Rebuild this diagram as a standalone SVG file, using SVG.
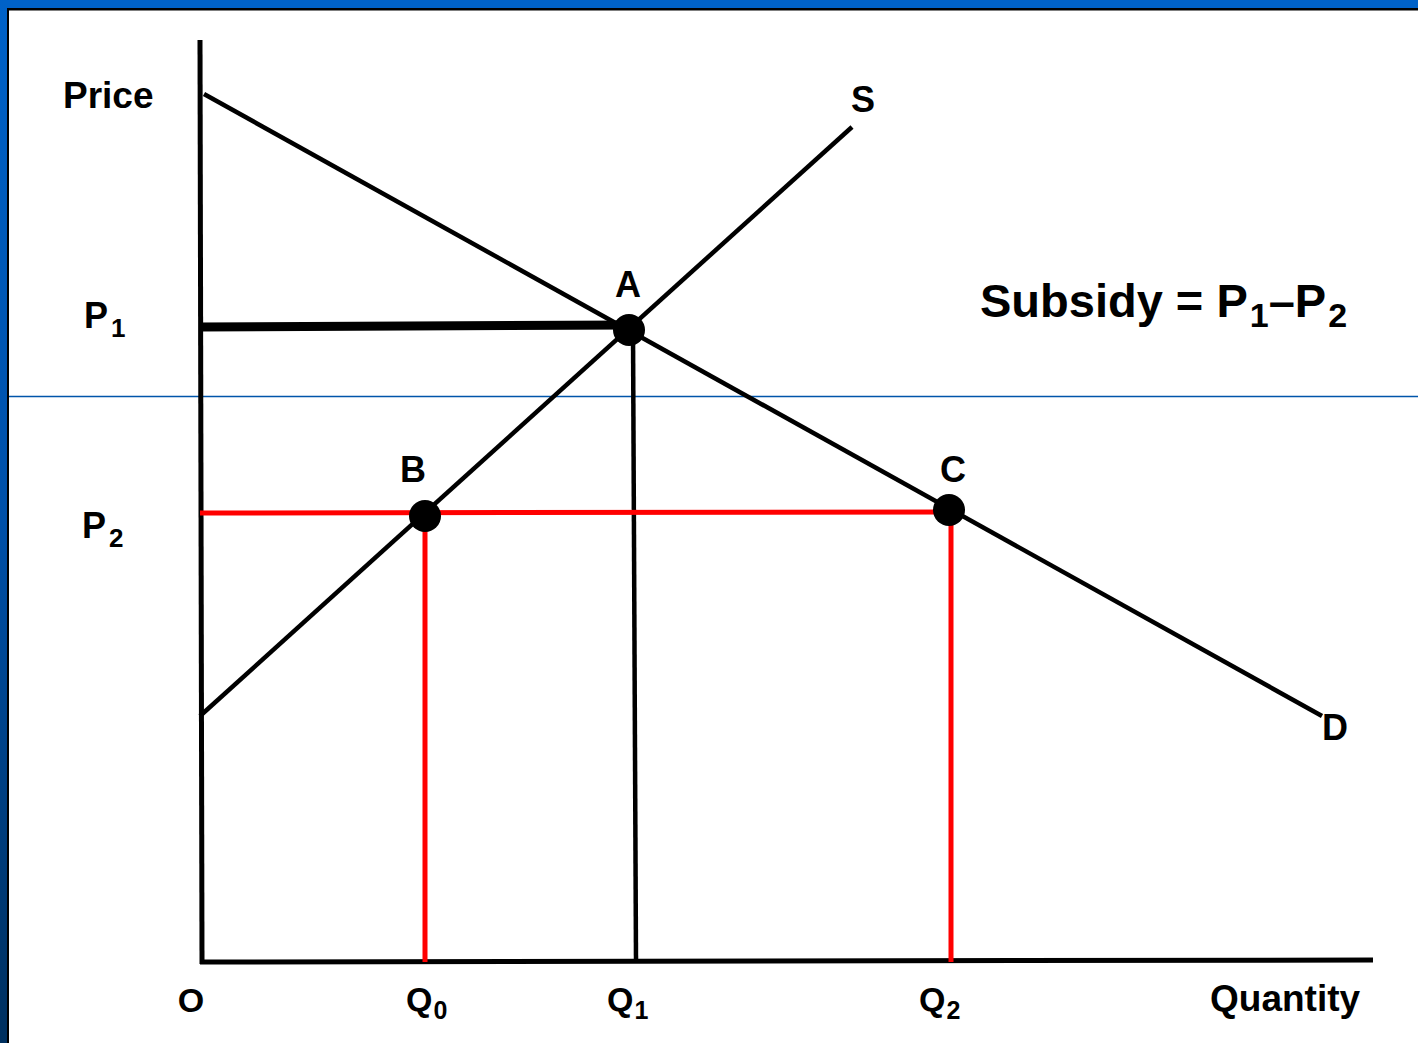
<svg xmlns="http://www.w3.org/2000/svg" width="1418" height="1043" viewBox="0 0 1418 1043">
<defs>
<linearGradient id="side" x1="0" y1="0" x2="0" y2="1">
<stop offset="0" stop-color="#0062C8"/>
<stop offset="0.5" stop-color="#0050A8"/>
<stop offset="1" stop-color="#00305F"/>
</linearGradient>
</defs>
<style>
.t{font-family:"Liberation Sans",Arial,sans-serif;font-weight:bold;fill:#000}
.ax{stroke:#000;stroke-width:5;fill:none}
.ln{stroke:#000;stroke-width:4.5;fill:none}
.red{stroke:#FF0000;stroke-width:5;fill:none}
.dot{fill:#000}
</style>
<rect x="0" y="0" width="1418" height="1043" fill="#FFFFFF"/>
<rect x="0" y="0" width="1418" height="8" fill="#0062C8"/>
<rect x="0" y="0" width="7" height="1043" fill="url(#side)"/>
<rect x="7" y="8" width="1411" height="2.5" fill="#000"/>
<rect x="7" y="8" width="2" height="1035" fill="#000"/>
<line x1="9" y1="396.5" x2="1418" y2="396.5" stroke="#0055AA" stroke-width="1.5"/>
<g id="connectors">
<line id="y-axis" class="ax" x1="200" y1="40" x2="202" y2="964"/>
<line id="x-axis" class="ax" x1="200" y1="962" x2="1373" y2="960"/>
<line id="demand" class="ln" x1="204" y1="94" x2="1322" y2="716"/>
<line id="supply" class="ln" x1="200" y1="716" x2="852" y2="127"/>
<line id="p1-line" x1="200" y1="327" x2="629" y2="325" stroke="#000" stroke-width="9"/>
<line id="q1-line" class="ln" x1="633" y1="330" x2="636" y2="962"/>
<line id="p2-line" class="red" x1="200" y1="513" x2="950" y2="512"/>
<line id="q0-line" class="red" x1="425" y1="515" x2="425" y2="962"/>
<line id="q2-line" class="red" x1="951" y1="511" x2="951" y2="962"/>
</g>
<g id="node-A"><circle class="dot" cx="629" cy="330" r="16"/><text class="t" x="628" y="297" font-size="36" text-anchor="middle">A</text></g>
<g id="node-B"><circle class="dot" cx="425" cy="516" r="16"/><text class="t" x="413" y="482" font-size="36" text-anchor="middle">B</text></g>
<g id="node-C"><circle class="dot" cx="949" cy="510" r="16"/><text class="t" x="953" y="482" font-size="36" text-anchor="middle">C</text></g>
<g id="label-price"><text class="t" x="63" y="108" font-size="37">Price</text></g>
<g id="label-p1"><text class="t" x="84" y="328" font-size="36">P<tspan font-size="26" dx="3" dy="9">1</tspan></text></g>
<g id="label-p2"><text class="t" x="82" y="538" font-size="36">P<tspan font-size="26" dx="3" dy="9">2</tspan></text></g>
<g id="label-S"><text class="t" x="863" y="112" font-size="36" text-anchor="middle">S</text></g>
<g id="label-D"><text class="t" x="1335" y="740" font-size="36" text-anchor="middle">D</text></g>
<g id="label-O"><text class="t" x="191" y="1012" font-size="34" text-anchor="middle">O</text></g>
<g id="label-q0"><text class="t" x="406" y="1011" font-size="34">Q<tspan font-size="25" dx="1" dy="8">0</tspan></text></g>
<g id="label-q1"><text class="t" x="607" y="1011" font-size="34">Q<tspan font-size="25" dx="1" dy="8">1</tspan></text></g>
<g id="label-q2"><text class="t" x="919" y="1011" font-size="34">Q<tspan font-size="25" dx="1" dy="8">2</tspan></text></g>
<g id="label-quantity"><text class="t" x="1210" y="1011" font-size="37">Quantity</text></g>
<g id="label-subsidy"><text class="t" x="980" y="317" font-size="47">Subsidy = P<tspan font-size="34" dx="2" dy="10">1</tspan><tspan dy="-10">–P</tspan><tspan font-size="34" dx="2" dy="10">2</tspan></text></g>
</svg>
